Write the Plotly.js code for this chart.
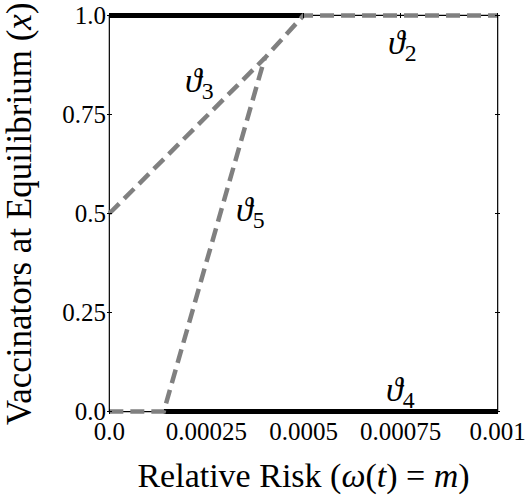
<!DOCTYPE html>
<html>
<head>
<meta charset="utf-8">
<script src="https://cdn.plot.ly/plotly-3.0.1.min.js"></script>
<style>html,body{margin:0;padding:0;background:#fff;}</style>
</head>
<body>
<div id="chart" style="width:528px;height:498px;"></div>
<script>
// Stable equilibria (solid black)
const solidTopX = [0, 0.0005];
const solidTopY = [1, 1];
const solidBottomX = [0.00014, 0.001];
const solidBottomY = [0, 0];
// Other branches (dashed gray)
const theta3X = [0, 0.0004, 0.0005, 0.001];
const theta3Y = [0.5, 0.892, 1, 1];
const theta5X = [0, 0.00014, 0.0004];
const theta5Y = [0, 0, 0.892];
// Branch labels
const labelText = ['ϑ', 'ϑ', 'ϑ', 'ϑ'];
const labelSub = ['2', '3', '5', '4'];
const labelX = [0.000755, 0.000232, 0.000364, 0.00075];
const labelY = [0.925, 0.83, 0.503, 0.05];
// Ticks
const xTickVals = [0, 0.00025, 0.0005, 0.00075, 0.001];
const xTickText = ['0.0', '0.00025', '0.0005', '0.00075', '0.001'];
const yTickVals = [0, 0.25, 0.5, 0.75, 1];
const yTickText = ['0.0', '0.25', '0.5', '0.75', '1.0'];
const xTitle = 'Relative Risk (<i>ω</i>(<i>t</i>) = <i>m</i>)';
const yTitle = 'Vaccinators at Equilibrium (<i>x</i>)';

const serif = 'Liberation Serif, Times New Roman, serif';
const gray = '#808080';

const traces = [
  {x: solidTopX, y: solidTopY, mode: 'lines', line: {color: '#000', width: 5}, hoverinfo: 'skip'},
  {x: solidBottomX, y: solidBottomY, mode: 'lines', line: {color: '#000', width: 5}, hoverinfo: 'skip'},
  {x: theta3X, y: theta3Y, mode: 'lines', line: {color: gray, width: 4.5, dash: '14px,7px'}, hoverinfo: 'skip'},
  {x: theta5X, y: theta5Y, mode: 'lines', line: {color: gray, width: 4.5, dash: '14px,7px'}, hoverinfo: 'skip'}
];

const annotations = labelText.map((t, i) => ({
  x: labelX[i], y: labelY[i], xref: 'x', yref: 'y',
  text: '<i>' + t + '</i><sub>' + labelSub[i] + '</sub>',
  showarrow: false,
  font: {family: serif, size: 34, color: '#000'}
}));
// y-axis title placed as a rotated annotation for exact placement
annotations.push({
  xref: 'paper', yref: 'paper', x: -0.222, y: 0.5,
  xanchor: 'center', yanchor: 'middle', textangle: -90,
  text: yTitle, showarrow: false,
  font: {family: serif, size: 35, color: '#000'}
});

const layout = {
  width: 528, height: 498,
  margin: {l: 107, r: 28, t: 13, b: 84},
  paper_bgcolor: '#fff', plot_bgcolor: '#fff',
  showlegend: false,
  xaxis: {
    range: [-0.000006, 0.001006],
    tickvals: xTickVals, ticktext: xTickText,
    ticks: 'inside', ticklen: 5, tickcolor: '#000', tickwidth: 1,
    mirror: 'ticks', showline: false, showgrid: false, zeroline: false,
    tickfont: {family: serif, size: 25, color: '#000'},
    title: {text: xTitle, font: {family: serif, size: 34, color: '#000'}, standoff: 19}
  },
  yaxis: {
    range: [-0.006, 1.006],
    tickvals: yTickVals, ticktext: yTickText,
    ticks: 'inside', ticklen: 5, tickcolor: '#000', tickwidth: 1,
    mirror: 'ticks', showline: false, showgrid: false, zeroline: false,
    tickfont: {family: serif, size: 25, color: '#000'}
  },
  shapes: [{
    type: 'rect', xref: 'x', yref: 'y', x0: 0, x1: 0.001, y0: 0, y1: 1,
    line: {color: '#000', width: 1.2}, layer: 'below'
  }],
  annotations: annotations
};

Plotly.newPlot('chart', traces, layout, {staticPlot: true, displayModeBar: false});
</script>
</body>
</html>
